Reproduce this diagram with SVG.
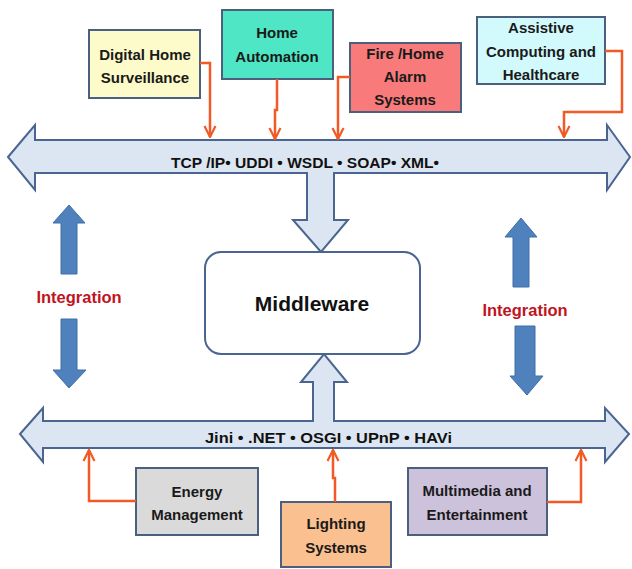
<svg xmlns="http://www.w3.org/2000/svg" width="632" height="569" viewBox="0 0 632 569">
  <style>
    .bus { fill: #dce6f2; stroke: #4a6590; stroke-width: 2; stroke-linejoin: miter; }
    .box { stroke: #4b5f7e; stroke-width: 2; }
    .lbl { font-family: "Liberation Sans", Arial, sans-serif; font-weight: bold; font-size: 15px; fill: #1a1a1a; text-anchor: middle; }
    .bustxt { font-family: "Liberation Sans", Arial, sans-serif; font-weight: bold; font-size: 14.5px; fill: #111; }
    .integ { font-family: "Liberation Sans", Arial, sans-serif; font-weight: bold; font-size: 16.5px; fill: #c0141e; text-anchor: middle; }
    .blue { fill: #4f81bd; stroke: #3f6ea8; stroke-width: 1; }
    .link { fill: none; stroke: #f15a24; stroke-width: 2.5; marker-end: url(#tip); }
  </style>
  <defs>
    <marker id="tip" viewBox="0 0 10 10" refX="9" refY="5" markerWidth="5.5" markerHeight="5.5" orient="auto" markerUnits="strokeWidth">
      <path d="M1,1 L9,5 L1,9" fill="none" stroke="#f15a24" stroke-width="1.6"/>
    </marker>
  </defs>

  <!-- Service bus (top) with arrow down into middleware -->
  <g id="bus-top">
    <path class="bus" d="M8,157 L35,125 L35,140 L607,140 L607,125 L630,157 L607,190 L607,173 L334,173 L334,220 L348,220 L321,252 L293,220 L307,220 L307,173 L35,173 L35,190 Z"/>
    <text class="bustxt" x="171" y="168" textLength="268" lengthAdjust="spacingAndGlyphs">TCP /IP• UDDI • WSDL • SOAP• XML•</text>
  </g>

  <!-- Device bus (bottom) with arrow up into middleware -->
  <g id="bus-bottom">
    <path class="bus" d="M20,434 L43,408 L43,421 L313,421 L313,382 L301,382 L324,354 L347,382 L334,382 L334,421 L605,421 L605,408 L629,434 L605,462 L605,448 L43,448 L43,462 Z"/>
    <text class="bustxt" x="205" y="443" textLength="247" lengthAdjust="spacingAndGlyphs">Jini   • .NET • OSGI • UPnP • HAVi</text>
  </g>

  <!-- Middleware -->
  <g id="middleware">
    <rect x="205" y="252" width="215" height="102" rx="16" ry="16" fill="#ffffff" stroke="#4a6590" stroke-width="2"/>
    <text x="312" y="311" font-family="'Liberation Sans', Arial, sans-serif" font-weight="bold" font-size="21" fill="#111" text-anchor="middle">Middleware</text>
  </g>

  <!-- Integration arrows -->
  <g id="integration-left">
    <path class="blue" d="M69,205 L85,223 L77,223 L77,274 L61,274 L61,223 L53,223 Z"/>
    <text class="integ" x="79" y="303">Integration</text>
    <path class="blue" d="M61,319 L77,319 L77,370 L86,370 L69,388 L53,370 L61,370 Z"/>
  </g>
  <g id="integration-right">
    <path class="blue" d="M521,218 L537,237 L529,237 L529,287 L513,287 L513,237 L505,237 Z"/>
    <text class="integ" x="525" y="316">Integration</text>
    <path class="blue" d="M515,326 L535,326 L535,376 L543,376 L527,395 L510,376 L515,376 Z"/>
  </g>

  <!-- Application domains (top) -->
  <g id="surveillance">
    <rect class="box" x="89" y="30" width="111" height="68" fill="#fdfbc9"/>
    <text class="lbl" x="145" y="60">Digital Home</text>
    <text class="lbl" x="145" y="83">Surveillance</text>
  </g>
  <g id="home-automation">
    <rect class="box" x="222" y="10" width="111" height="69" fill="#4ee6c4"/>
    <text class="lbl" x="277" y="38">Home</text>
    <text class="lbl" x="277" y="62">Automation</text>
  </g>
  <g id="alarm">
    <rect class="box" x="350" y="43" width="111" height="69" fill="#f87a7a"/>
    <text class="lbl" x="405" y="59">Fire /Home</text>
    <text class="lbl" x="405" y="82">Alarm</text>
    <text class="lbl" x="405" y="105">Systems</text>
  </g>
  <g id="healthcare">
    <rect class="box" x="477" y="17" width="128" height="67" fill="#d2fafc"/>
    <text class="lbl" x="541" y="33">Assistive</text>
    <text class="lbl" x="541" y="57">Computing and</text>
    <text class="lbl" x="541" y="80">Healthcare</text>
  </g>

  <!-- Application domains (bottom) -->
  <g id="energy">
    <rect class="box" x="136" y="468" width="122" height="67" fill="#dadada"/>
    <text class="lbl" x="197" y="497">Energy</text>
    <text class="lbl" x="197" y="520">Management</text>
  </g>
  <g id="lighting">
    <rect class="box" x="281" y="502" width="110" height="65" fill="#fac08f"/>
    <text class="lbl" x="336" y="529">Lighting</text>
    <text class="lbl" x="336" y="553">Systems</text>
  </g>
  <g id="multimedia">
    <rect class="box" x="408" y="468" width="139" height="67" fill="#cdc2dc"/>
    <text class="lbl" x="477" y="496">Multimedia and</text>
    <text class="lbl" x="477" y="520">Entertainment</text>
  </g>

  <!-- Connectors from domains to buses -->
  <g id="connectors">
    <path class="link" d="M200,63 H210 V137"/>
    <path class="link" d="M277,79 V110 H275 V139"/>
    <path class="link" d="M350,77 H338 V139"/>
    <path class="link" d="M605,51 H622 V112 H564 V137"/>
    <path class="link" d="M136,501 H89 V450"/>
    <path class="link" d="M335,502 V478 H333 V450"/>
    <path class="link" d="M547,502 H581 V450"/>
  </g>
</svg>
